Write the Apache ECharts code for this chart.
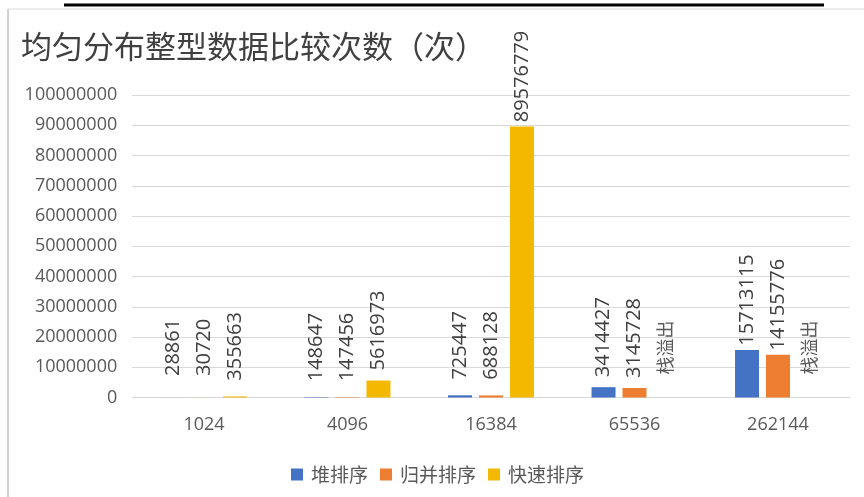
<!DOCTYPE html>
<html>
<head>
<meta charset="utf-8">
<script src="https://cdn.jsdelivr.net/npm/echarts@6/dist/echarts.min.js"></script>
<style>
html,body{margin:0;padding:0;background:#fff;}
#chart{width:864px;height:497px;}
</style>
</head>
<body>
<div id="chart"></div>
<script>
const titleText = '均匀分布整型数据比较次数（次）';
const categories = ['1024', '4096', '16384', '65536', '262144'];
const seriesNames = ['堆排序', '归并排序', '快速排序'];
const heapSort = [28861, 148647, 725447, 3414427, 15713115];
const mergeSort = [30720, 147456, 688128, 3145728, 14155776];
const quickSort = [355663, 5616973, 89576779, null, null];
const overflowNote = '栈溢出';
const yMin = 0;
const yMax = 100000000;
const yInterval = 10000000;
const colors = ['#4472C4', '#ED7D31', '#F5B800'];

const chart = echarts.init(document.getElementById('chart'), null, {renderer: 'canvas'});

const labelBase = {
  show: true,
  position: 'top',
  rotate: 90,
  align: 'center',
  verticalAlign: 'middle',
  distance: 50,
  fontFamily: 'Open Sans',
  fontSize: 20,
  color: '#404040'
};

function toData(arr) {
  return arr.map(v => v === null
    ? {value: 0, label: {formatter: overflowNote, fontFamily: 'Noto Sans CJK SC', fontSize: 18, color: '#595959'}}
    : v);
}

const allSeries = [heapSort, mergeSort, quickSort].map((arr, i) => ({
  name: seriesNames[i],
  type: 'bar',
  data: toData(arr),
  barWidth: 24,
  barGap: '29%',
  itemStyle: {color: colors[i]},
  label: labelBase
}));

chart.setOption({
  backgroundColor: '#ffffff',
  animation: false,
  color: colors,
  title: {
    text: titleText,
    left: 16,
    top: 25,
    textStyle: {fontFamily: 'Noto Sans CJK SC', fontSize: 31, lineHeight: 33, fontWeight: 'normal', color: '#404040'}
  },
  legend: {
    data: seriesNames,
    left: 286,
    top: 460,
    itemWidth: 12,
    itemHeight: 12,
    itemGap: 12,
    icon: 'rect',
    textStyle: {fontFamily: 'Noto Sans CJK SC', fontSize: 19, color: '#595959', padding: [0, 0, 0, 3]}
  },
  grid: {left: 132.25, right: 14.25, top: 95, bottom: 99.5, containLabel: false},
  xAxis: {
    type: 'category',
    data: categories,
    axisTick: {show: false},
    axisLine: {lineStyle: {color: '#d9d9d9', width: 1}},
    axisLabel: {fontFamily: 'Open Sans', fontSize: 18, color: '#595959', margin: 18}
  },
  yAxis: {
    type: 'value',
    min: yMin,
    max: yMax,
    interval: yInterval,
    axisLine: {show: false},
    axisTick: {show: false},
    splitLine: {lineStyle: {color: '#d9d9d9', width: 1}},
    axisLabel: {fontFamily: 'Open Sans', fontSize: 18, color: '#595959', margin: 15, formatter: v => String(v)}
  },
  graphic: [
    {type: 'line', shape: {x1: 64, y1: 5, x2: 824, y2: 5}, style: {stroke: '#000000', lineWidth: 3}},
    {type: 'line', shape: {x1: 8, y1: 9, x2: 864, y2: 9}, style: {stroke: '#d9d9d9', lineWidth: 1}},
    {type: 'line', shape: {x1: 8, y1: 9, x2: 8, y2: 497}, style: {stroke: '#d0d0d0', lineWidth: 2}}
  ],
  series: allSeries
});
</script>
</body>
</html>
